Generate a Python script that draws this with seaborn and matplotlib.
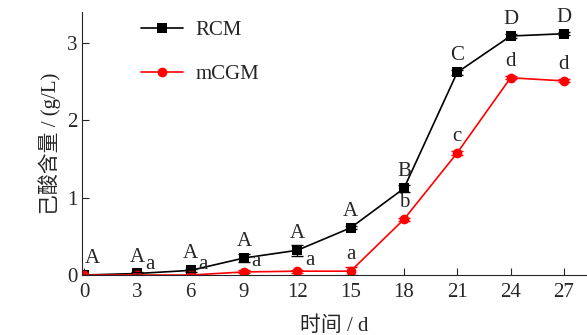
import pandas as pd
import matplotlib.pyplot as plt
import seaborn as sns

# 数据
days = [0, 3, 6, 9, 12, 15, 18, 21, 24, 27]
rcm = [0.0, 0.02, 0.06, 0.22, 0.32, 0.61, 1.12, 2.62, 3.09, 3.12]
rcm_err = [0.0, 0.02, 0.02, 0.05, 0.07, 0.02, 0.05, 0.03, 0.02, 0.02]
mcgm = [0.0, 0.0, 0.0, 0.04, 0.05, 0.05, 0.72, 1.58, 2.55, 2.51]
mcgm_err = [0.0, 0.0, 0.0, 0.02, 0.02, 0.05, 0.02, 0.03, 0.02, 0.02]
rcm_letters = ["A", "A", "A", "A", "A", "A", "B", "C", "D", "D"]
mcgm_letters = ["", "a", "a", "a", "a", "a", "b", "c", "d", "d"]

df = pd.DataFrame({
    "day": days * 2,
    "value": rcm + mcgm,
    "medium": ["RCM"] * len(days) + ["mCGM"] * len(days),
})

sns.set_style("ticks")
plt.rcParams["font.family"] = ["Liberation Serif", "Noto Sans CJK SC"]
plt.rcParams["font.size"] = 15

fig = plt.figure(figsize=(5.87, 3.35), dpi=100)
ax = fig.add_axes([0.14, 0.179, 0.86, 0.785])

colors = {"RCM": "black", "mCGM": "red"}
sns.lineplot(data=df, x="day", y="value", hue="medium", style="medium",
             palette=colors, markers={"RCM": "s", "mCGM": "o"}, dashes=False,
             markersize=7, markeredgewidth=0, linewidth=1.2, ax=ax)
ax.errorbar(days, rcm, yerr=rcm_err, fmt="none", ecolor="black", capsize=4, lw=1)
ax.errorbar(days, mcgm, yerr=mcgm_err, fmt="none", ecolor="red", capsize=4, lw=1)

# 显著性字母
for d, v, t in zip(days, rcm, rcm_letters):
    dx = 6 if d == 0 else 0
    ax.annotate(t, (d, v), xytext=(dx, 5), textcoords="offset points",
                ha="center", va="bottom", fontsize=15)
for d, v, t in zip(days, mcgm, mcgm_letters):
    if not t:
        continue
    off = (9, 1) if d <= 12 else (0, 5)
    ax.annotate(t, (d, v), xytext=off, textcoords="offset points",
                ha="center", va="bottom", fontsize=15)

ax.set_xlim(-0.1, 28.3)
ax.set_ylim(0, 3.4)
ax.set_xticks(days)
ax.set_yticks([0, 1, 2, 3])
ax.tick_params(direction="in", length=5, labelsize=15)
ax.tick_params(axis="x", pad=6)
ax.set_xlabel("时间 / d", fontsize=15, labelpad=10)
ax.set_ylabel("己酸含量 / (g/L)", fontsize=15)
sns.despine(ax=ax)

ax.legend(frameon=False, loc="upper left", bbox_to_anchor=(0.08, 1.04),
          labelspacing=1.2, handlelength=2.0, handletextpad=0.6, fontsize=15)

fig.savefig("out.png", dpi=100)
